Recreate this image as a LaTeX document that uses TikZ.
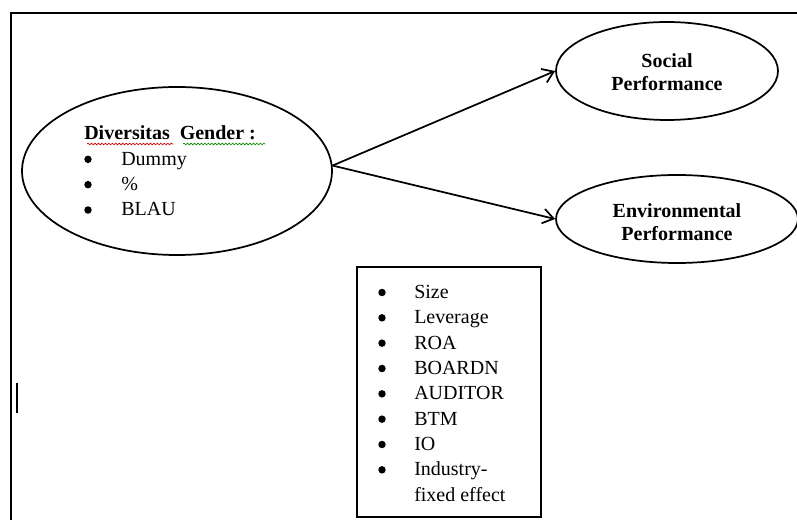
\documentclass[tikz,border=0pt]{standalone}
\usepackage{fontspec}
\setmainfont{Liberation Serif}
\usetikzlibrary{arrows.meta,shapes.geometric,decorations.pathmorphing}
% indent that leaves room for a list bullet
\newcommand\dotcell{\makebox[27.75pt][l]{}}
\begin{document}
\begin{tikzpicture}[x=0.75pt,y=-0.75pt,
  oval/.style={draw,ellipse,line width=1.3pt,inner sep=0pt},
  link/.style={line width=1.3pt,-{Straight Barb[length=8pt,width=11pt,line width=1.3pt]}},
  listtext/.style={anchor=base west,inner sep=0pt,font=\fontsize{15pt}{19pt}\selectfont},
  title/.style={align=center,inner sep=0pt,font=\fontsize{15pt}{17.25pt}\selectfont\bfseries},
  listdot/.style={fill=black},
  squiggle/.style={line width=0.5pt,decorate,decoration={snake,amplitude=0.6pt,segment length=2.6pt}}]
\useasboundingbox (0,0) rectangle (797,520);
\fill[white] (0,0) rectangle (797,520);

% page frame
\draw[line width=1.6pt] (11,520) -- (11,13) -- (797,13);
\draw[line width=1.5pt] (17,383) -- (17,413);

% independent variable
\node[oval,minimum width=232.5pt,minimum height=126pt] (div) at (177,171) {};
\node[listtext] (divtext) at (84,140) {\begin{tabular}[t]{@{}l@{}l@{}}
\multicolumn{2}{@{}l@{}}{\textbf{Diversitas\ \ Gender :}}\\
\dotcell & Dummy\\
\dotcell & \%\\
\dotcell & BLAU
\end{tabular}};
\foreach \i in {1,2,3}
  \fill[listdot] (88,140+25.333*\i-6) circle (2.8pt);
\draw[squiggle,red!85!black] (87,144) -- (173,144);
\draw[squiggle,green!55!black] (183,144) -- (265,144);

% dependent variables
\node[oval,minimum width=166.5pt,minimum height=73.5pt] (soc) at (667,71) {};
\node[title] (soctext) at (667,72.5) {Social\\Performance};
\node[oval,minimum width=181.5pt,minimum height=66pt] (env) at (677,219) {};
\node[title] (envtext) at (677,222.5) {Environmental\\Performance};

% controls
\node[draw,line width=1.4pt,minimum width=138pt,minimum height=187.5pt,inner sep=0pt] (ctrl) at (449,392) {};
\node[listtext] (ctrltext) at (377,298.5) {\begin{tabular}[t]{@{}l@{}l@{}}
\dotcell & Size\\
\dotcell & Leverage\\
\dotcell & ROA\\
\dotcell & BOARDN\\
\dotcell & AUDITOR\\
\dotcell & BTM\\
\dotcell & IO\\
\dotcell & Industry-\\
 & fixed effect
\end{tabular}};
\foreach \i in {0,...,7}
  \fill[listdot] (382,298.5+25.333*\i-6) circle (2.8pt);

% paths
\draw[link] (div.2.6) -- (soc.west);
\draw[link] (div.2.6) -- (env.west);
\end{tikzpicture}
\end{document}
